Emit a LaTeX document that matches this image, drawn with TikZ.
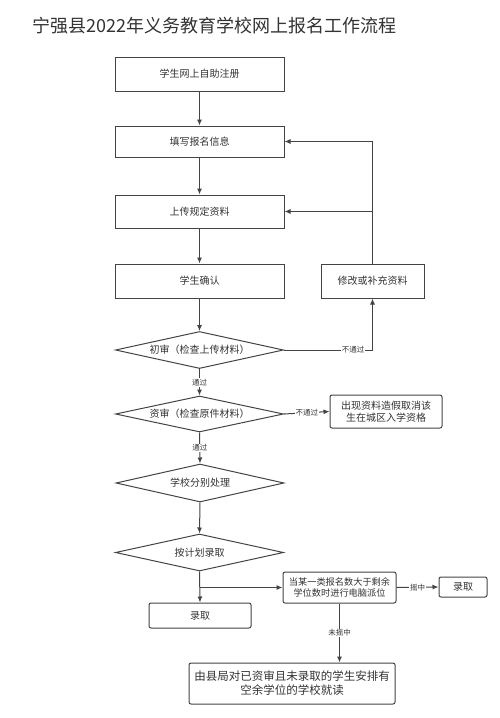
\documentclass[tikz,border=0pt]{standalone}
\usepackage{fontspec}
\setmainfont{Noto Sans CJK SC}
\usetikzlibrary{shapes.geometric,arrows.meta}
\definecolor{flowline}{RGB}{68,68,68}
\definecolor{flowtext}{RGB}{51,51,51}

\begin{document}
\begin{tikzpicture}[x=1pt, y=-1pt,
    procbox/.style={draw=flowline, line width=1pt, text=flowtext, font=\fontsize{10}{12}\selectfont,
        minimum width=169pt, minimum height=33pt, inner sep=1pt, align=center},
    roundbox/.style={procbox, rounded corners=2pt},
    decision/.style={diamond, draw=flowline, line width=1pt, text=flowtext, font=\fontsize{10}{12}\selectfont,
        aspect=4.5, minimum width=168pt, minimum height=37pt, inner sep=1pt},
    flowarrow/.style={draw=flowline, line width=1pt, -{Latex[length=6pt,width=5pt]}},
    passlabel/.style={fill=white, text=flowtext, inner sep=1pt, font=\fontsize{7.5}{9}\selectfont}]

    % page
    \useasboundingbox[fill=white] (0,0) rectangle (500,718);

    % title
    \node[anchor=west, text=flowtext, font=\fontsize{18}{20}\selectfont, inner sep=0pt] (title) at (32,26)
        {宁强县2022年义务教育学校网上报名工作流程};

    % main column
    \node[procbox, minimum height=34pt] (register) at (199.5,74) {学生网上自助注册};
    \node[procbox, minimum height=31pt] (fillin) at (199.5,141.5) {填写报名信息};
    \node[procbox] (upload) at (199.5,211.5) {上传规定资料};
    \node[procbox, minimum height=34pt] (confirm) at (199.5,281) {学生确认};
    \node[procbox, minimum width=103pt, minimum height=34pt] (modify) at (372.5,281) {修改或补充资料};

    \node[decision] (firstcheck) at (199.5,350) {初审（检查上传材料）};
    \node[decision, minimum height=36pt] (secondcheck) at (199.5,414) {资审（检查原件材料）};
    \node[roundbox, minimum width=112pt, minimum height=33pt] (fake) at (386,411.5)
        {出现资料造假取消该\\生在城区入学资格};
    \node[decision, minimum height=38pt] (school) at (200,483) {学校分别处理};
    \node[decision] (plan) at (199.5,552.5) {按计划录取};

    % admission
    \node[roundbox, minimum width=113pt, minimum height=31pt, font=\fontsize{9.2}{11}\selectfont] (lottery) at (339.5,587.5)
        {当某一类报名数大于剩余\\学位数时进行电脑派位};
    \node[roundbox, minimum width=102pt, minimum height=25pt] (admitleft) at (200,615.5) {录取};
    \node[roundbox, minimum width=48pt, minimum height=20pt] (admitright) at (463,587) {录取};
    \node[roundbox, minimum width=206pt, minimum height=41pt, font=\fontsize{11.5}{14}\selectfont] (assign) at (292,683.5)
        {由县局对已资审且未录取的学生安排有\\空余学位的学校就读};

    % connectors
    \draw[flowarrow] (register) -- (fillin);
    \draw[flowarrow] (fillin) -- (upload);
    \draw[flowarrow] (upload) -- (confirm);
    \draw[flowarrow] (confirm) -- (firstcheck);
    \draw[flowarrow] (firstcheck.east) -| node[passlabel, pos=0.39] {不通过} (modify.south);
    \draw[flowarrow] (modify.north) |- (fillin.east);
    \draw[flowarrow] (modify.north |- upload.east) -- (upload.east);
    \draw[flowarrow] (firstcheck.south) -- node[passlabel] {通过} (secondcheck.north);
    \draw[flowarrow] (secondcheck.east) -- node[passlabel] {不通过} (fake.west);
    \draw[flowarrow] (secondcheck.south) -- node[passlabel] {通过} (school.north);
    \draw[flowarrow] (school.south) -- (plan.north);
    \draw[flowarrow] (plan.south) -- (admitleft.north);
    \coordinate (branch) at (plan.south |- lottery.west);
    \draw[flowarrow] (branch) -- (lottery.west);
    \draw[flowarrow] (lottery.east) -- node[passlabel] {摇中} (admitright.west);
    \draw[flowarrow] (lottery.south) -- node[passlabel] {未摇中} (lottery.south |- assign.north);

\end{tikzpicture}
\end{document}
